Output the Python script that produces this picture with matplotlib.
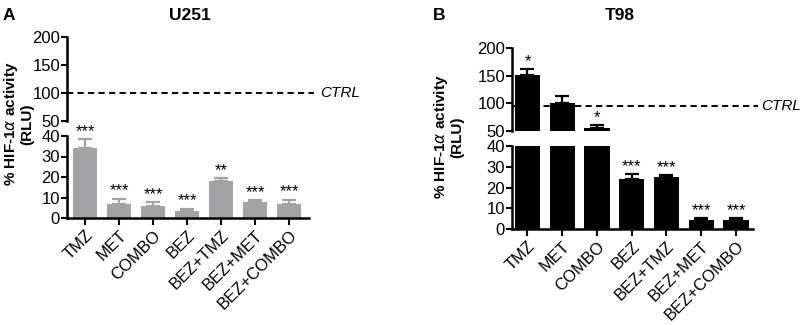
import matplotlib
matplotlib.use("Agg")
import matplotlib.pyplot as plt
import numpy as np

plt.rcParams['font.family'] = ['Liberation Sans', 'DejaVu Sans']

categories = ["TMZ", "MET", "COMBO", "BEZ", "BEZ+TMZ", "BEZ+MET", "BEZ+COMBO"]

u251_values = [34, 7, 5.8, 3.6, 18, 7.8, 7]
u251_err = [4.5, 2.5, 2, 1, 1.5, 1, 2]
u251_stars = ["***", "***", "***", "***", "**", "***", "***"]
u251_ctrl = 100

t98_values = [152, 101, 55, 24, 25, 4.3, 4.3]
t98_err = [10, 12, 5, 2.5, 0.8, 1, 1]
t98_stars = ["*", "", "*", "***", "***", "***", "***"]
t98_ctrl = 95

W, H = 804, 325
fig = plt.figure(figsize=(W / 100, H / 100), dpi=100)


def px_axes(x0, x1, ytop, ybot):
    return fig.add_axes([x0 / W, 1 - ybot / H, (x1 - x0) / W, (ybot - ytop) / H])


def panel(x0, x1, up_top, up_bot, lo_top, lo_bot, c0, step, width, values, err, stars,
          color, ecolor, ctrl, ctrl_end, ctrl_text_x, title, title_x, letter, letter_x,
          ylabel_x, ylabel_y):
    ax_up = px_axes(x0, x1, up_top, up_bot)
    ax_lo = px_axes(x0, x1, lo_top, lo_bot)
    n = len(values)
    pos = np.arange(n)
    xl = ((x0 - c0) / step, (x1 - c0) / step)
    for ax in (ax_up, ax_lo):
        ax.bar(pos, values, width=width, color=color, edgecolor=color, linewidth=0)
        ax.errorbar(pos, values, yerr=[np.zeros(n), err], fmt='none', ecolor=ecolor,
                    elinewidth=1.6, capsize=5, capthick=1.6)
        ax.set_xlim(*xl)
        ax.patch.set_alpha(0)
        for s in ("top", "right"):
            ax.spines[s].set_visible(False)
        ax.spines["left"].set_linewidth(1.8)
        ax.tick_params(axis='y', labelsize=12, width=1.5, length=4, pad=1)
    ax_up.set_ylim(50, 200)
    ax_up.set_yticks([50, 100, 150, 200])
    ax_up.spines["bottom"].set_visible(False)
    ax_up.set_xticks([])
    ax_lo.set_ylim(0, 40)
    ax_lo.set_yticks([0, 10, 20, 30, 40])
    ax_lo.spines["bottom"].set_linewidth(1.8)
    ax_lo.set_xticks(pos)
    ax_lo.set_xticklabels(categories, rotation=45, ha='right', rotation_mode='anchor', fontsize=12)
    ax_lo.tick_params(axis='x', width=1.5, length=5, pad=2)

    # control line
    ax_up.plot([xl[0], ctrl_end], [ctrl, ctrl], ls=(0, (3.2, 2.2)), color='black', lw=1.4,
               clip_on=False)
    ax_up.text(ctrl_text_x, ctrl, "CTRL", fontsize=11, style='italic', va='center', ha='left')

    # stars
    for i, (v, e, s) in enumerate(zip(values, err, stars)):
        if not s:
            continue
        top = v + e
        ax = ax_up if top > 50 else ax_lo
        ax.annotate(s, (i, top), xytext=(0, 0), textcoords='offset points', ha='center',
                    va='bottom', fontsize=12, annotation_clip=False)

    fig.text(title_x / W, 1 - 16 / H, title, fontsize=12.5, fontweight='bold', ha='center', va='center')
    fig.text(letter_x / W, 1 - 16 / H, letter, fontsize=12.5, fontweight='bold', ha='left', va='center')
    fig.text(ylabel_x / W, 1 - ylabel_y / H, "% HIF-1$\\alpha$ activity\n(RLU)", fontsize=11,
             fontweight='bold', rotation=90, ha='center', va='center', linespacing=1.0,
             multialignment='center')


panel(67, 309, 37, 121, 136, 218, 85, 34, 0.68, u251_values, u251_err, u251_stars,
      '#a3a3a6', '#a3a3a6', u251_ctrl, 6.75, 6.93, "U251", 190, "A", 3, 18, 124)
panel(512, 753, 48, 131, 146, 229, 527.5, 34.75, 0.72, t98_values, t98_err, t98_stars,
      'black', 'black', t98_ctrl, 6.62, 6.72, "T98", 620, "B", 433, 448, 137)

fig.savefig("out.png", dpi=100)
